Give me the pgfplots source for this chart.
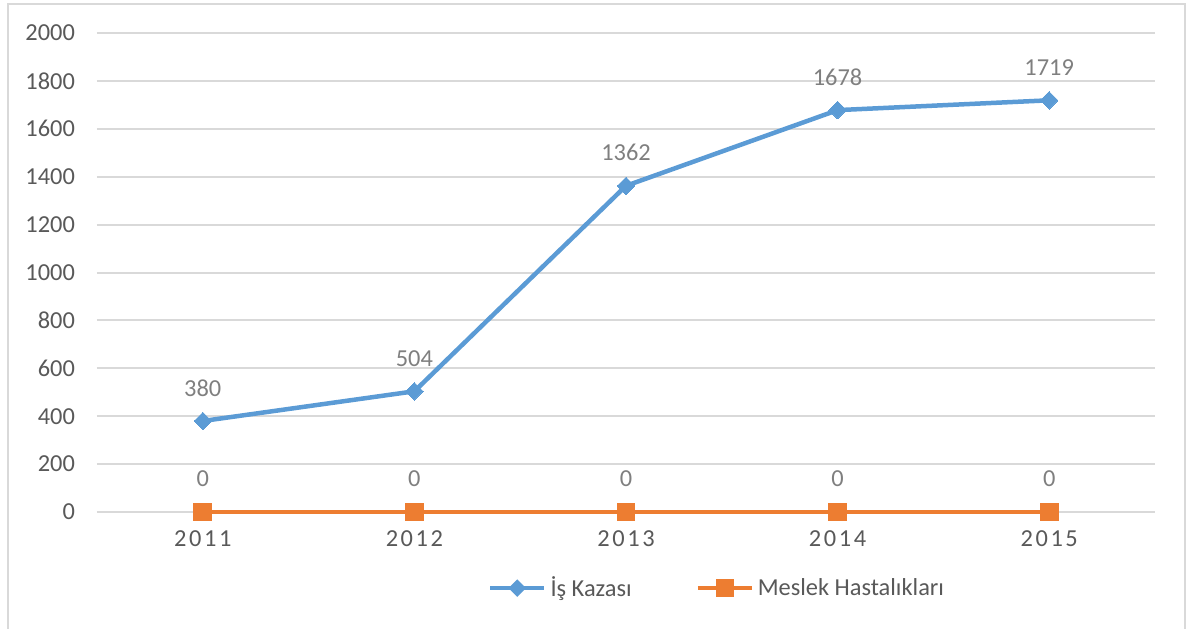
\documentclass[border=0pt]{standalone}
\usepackage{fontspec}
\setmainfont{Carlito}
\usepackage{pgfplots}
\pgfplotsset{compat=1.18}
\definecolor{blueline}{HTML}{5B9BD5}
\definecolor{orangeline}{HTML}{ED7D31}
\definecolor{gridgray}{HTML}{D9D9D9}
\definecolor{ticktext}{HTML}{595959}
\definecolor{labeltext}{HTML}{7F7F7F}
\newcommand{\yr}[4]{#1\kern1.3pt#2\kern1.3pt#3\kern1.3pt#4}
\newcommand{\chartfont}{\fontsize{12.2}{14}\selectfont}
\begin{document}
\begin{tikzpicture}
\begin{axis}[
    at={(0,0)}, anchor=south west,
    scale only axis,
    width=529pt, height=239.5pt,
    xmin=-0.5, xmax=4.5,
    ymin=0, ymax=2000,
    ytick={0,200,...,2000},
    xtick={0,1,2,3,4},
    xticklabels={\yr2011,\yr2012,\yr2013,\yr2014,\yr2015},
    ymajorgrids,
    grid style={gridgray, line width=1pt},
    axis line style={draw=none},
    major tick length=0pt,
    tick style={draw=none},
    font=\chartfont,
    ticklabel style={text=ticktext},
    yticklabel style={xshift=-7.5pt},
    xticklabel style={yshift=-6pt},
    /pgf/number format/assume math mode=true,
    /pgf/number format/1000 sep={},
    clip=false,
    legend columns=2,
    legend style={draw=none, at={(0.587,-0.159)}, anchor=center,
        font=\chartfont, text=ticktext,
        /tikz/every even column/.append style={column sep=30pt}},
    legend image code/.code={
        \draw[#1, mark=none] (0pt,0pt) -- (27pt,0pt);
        \draw[#1, draw opacity=0] plot coordinates {(13.5pt,0pt)};
    },
    nodes near coords,
    every node near coord/.append style={anchor=center, yshift=16.5pt,
        text=labeltext, font=\chartfont},
]
\addplot[blueline, line width=2.25pt, mark=square*, mark size=3.1pt,
    mark options={line width=0pt, fill=blueline, rotate=45}]
    coordinates {(0,380) (1,504) (2,1362) (3,1678) (4,1719)};
\addlegendentry{İş Kazası}
\addplot[orangeline, line width=2pt, mark=square*, mark size=4.4pt,
    mark options={line width=0pt, fill=orangeline}]
    coordinates {(0,0) (1,0) (2,0) (3,0) (4,0)};
\addlegendentry{Meslek Hastalıkları}
\end{axis}
\draw[gridgray, line width=1pt] (-44.5pt,-70pt) -- (-44.5pt,254pt) -- (544pt,254pt) -- (544pt,-70pt);
\pgfresetboundingbox
\useasboundingbox (-48.5pt,-58pt) rectangle (548.5pt,256pt);
\end{tikzpicture}
\end{document}
